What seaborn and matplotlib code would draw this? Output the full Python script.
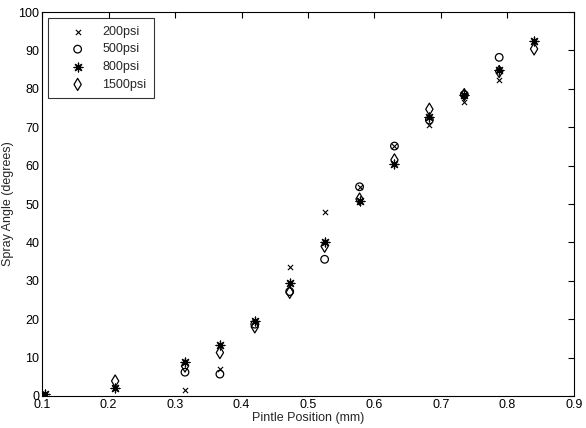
import numpy as np
import pandas as pd
import seaborn as sns
import matplotlib
matplotlib.use('Agg')
import matplotlib.pyplot as plt

pintle = [0.105, 0.21, 0.315, 0.3675, 0.42, 0.4725, 0.525, 0.5775, 0.63, 0.6825, 0.735, 0.7875, 0.84]
psi200 = [np.nan, 2.0, 1.6, 6.9, 19.5, 33.7, 48.0, 54.5, 65.0, 70.6, 76.6, 82.3, np.nan]
psi500 = [np.nan, np.nan, 6.2, 5.7, 18.7, 27.2, 35.6, 54.5, 65.1, 71.9, 78.5, 88.2, np.nan]
psi800 = [0.5, 2.2, 8.8, 13.3, 19.5, 29.3, 40.2, 50.9, 60.4, 72.7, 78.5, 84.9, 92.4]
psi1500 = [np.nan, 3.9, 7.8, 11.3, 18.0, 27.0, 39.0, 51.3, 61.5, 74.7, 78.5, 84.5, 90.4]
labels = ['200psi', '500psi', '800psi', '1500psi']

sns.set_style('white')
plt.rcParams['font.family'] = ['Liberation Sans', 'DejaVu Sans']
plt.rcParams['font.size'] = 9

fig = plt.figure(figsize=(5.86, 4.28), dpi=100)
ax = fig.add_axes([0.0717, 0.0748, 0.9078, 0.897])

df = pd.DataFrame({'x': pintle, '200psi': psi200, '500psi': psi500,
                   '800psi': psi800, '1500psi': psi1500})

sns.scatterplot(data=df, x='x', y='200psi', marker='x', color='k', s=14, linewidth=0.8, label=labels[0], ax=ax)
sns.scatterplot(data=df, x='x', y='500psi', marker='o', facecolors='none', edgecolor='k', s=30, linewidth=0.9, label=labels[1], ax=ax)
sns.scatterplot(data=df, x='x', y='800psi', marker=(8, 2, 0), color='k', s=40, linewidth=0.9, label=labels[2], ax=ax)
sns.scatterplot(data=df, x='x', y='1500psi', marker='d', facecolors='none', edgecolor='k', s=38, linewidth=0.9, label=labels[3], ax=ax)

ax.set_xlim(0.1, 0.9)
ax.set_ylim(0, 100)
ax.set_xticks(np.arange(0.1, 0.91, 0.1))
ax.set_xticklabels(['0.1', '0.2', '0.3', '0.4', '0.5', '0.6', '0.7', '0.8', '0.9'])
ax.set_yticks(range(0, 101, 10))
ax.tick_params(direction='in', top=True, right=True, length=4, width=0.8, labelsize=9, pad=2, colors='k')
for sp in ax.spines.values():
    sp.set_color('k')
    sp.set_linewidth(0.8)
ax.set_xlabel('Pintle Position (mm)', fontsize=9, labelpad=1)
ax.set_ylabel('Spray Angle (degrees)', fontsize=9, labelpad=3)

leg = ax.legend(loc='upper left', frameon=True, fancybox=False, fontsize=9,
                edgecolor='k', borderpad=0.6, labelspacing=0.45,
                handlelength=3.5, handletextpad=0.2, borderaxespad=0.5)
leg.get_frame().set_linewidth(0.8)

fig.savefig('out.png', dpi=100)
